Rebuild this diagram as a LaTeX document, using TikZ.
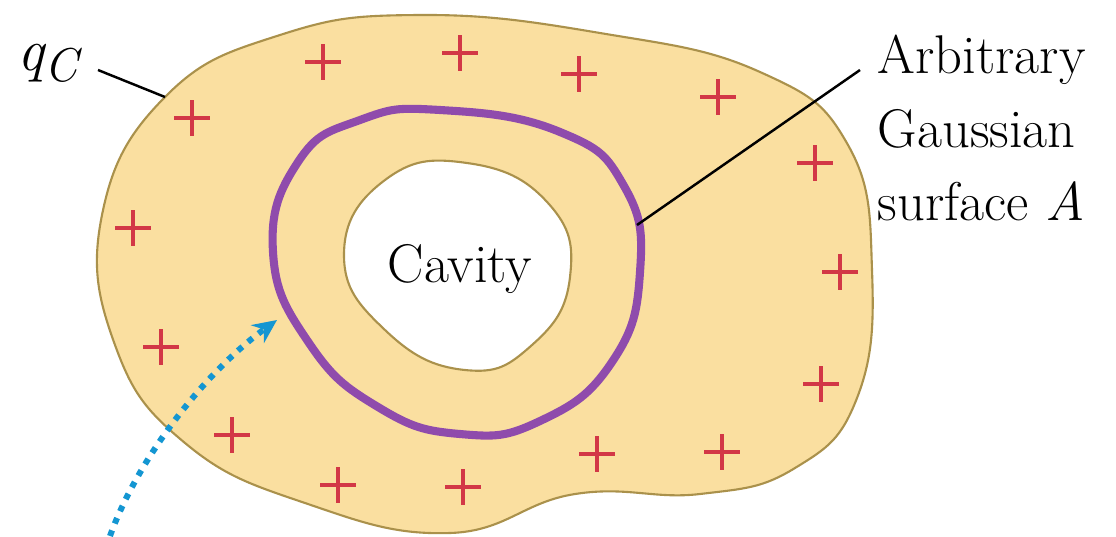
\documentclass[tikz,border=0pt]{standalone}
\usepackage{fontspec}
\definecolor{condbeige}{RGB}{250, 223, 160}
\definecolor{condedge}{RGB}{170, 145, 75}
\definecolor{gausspurple}{RGB}{143, 75, 172}
\definecolor{chargered}{RGB}{210, 55, 70}
\definecolor{fluxblue}{RGB}{20, 150, 210}
\usetikzlibrary{arrows.meta, positioning}

\begin{document}
\begin{tikzpicture}[x=0.01cm, y=-0.01cm,
    conductor/.style={fill=condbeige, draw=condedge, line width=0.6pt},
    cavity/.style={fill=white, draw=condedge, line width=0.6pt},
    gaussian/.style={draw=gausspurple, line width=2.3pt},
    plus/.style={draw=chargered, line width=1.15pt},
    leader/.style={draw=black, line width=0.7pt},
    fluxarrow/.style={draw=fluxblue, line width=1.7pt, dash pattern=on 1.7pt off 2.1pt,
                      -{Stealth[length=0.24cm, width=0.22cm]}},
    textlabel/.style={font=\rmfamily\fontsize{15.5}{21}\selectfont, inner sep=0pt}]
    \useasboundingbox (0,0) rectangle (1116,536);
    % conductor with its cavity
    \path[conductor] plot[smooth cycle, tension=0.75] coordinates {
        (420,15) (600,33) (760,72) (848,145) (872,270) (857,398) (795,468)
        (700,494) (575,494) (450,533) (305,503) (185,443) (115,345) (102,215)
        (165,97) (280,35)};
    \path[cavity] plot[smooth cycle, tension=0.8] coordinates {
        (467,163) (548,203) (570,277) (532,345) (465,370) (385,330) (344,255)
        (385,180)};
    % excess charge on the outer surface
    \foreach \x/\y in {323/62, 460/53, 579/74, 718/97, 192/118, 815/163, 133/228,
                       840/272, 161/347, 821/384, 232/435, 597/454, 722/452,
                       338/485, 463/487}
        \path[plus] (\x-18,\y) -- ++(36,0) (\x,\y-18) -- ++(0,36);
    % Gaussian surface
    \path[gaussian] plot[smooth cycle, tension=0.8] coordinates {
        (440,110) (560,132) (624,186) (640,272) (612,362) (540,421) (460,434)
        (378,407) (309,343) (273,252) (298,162) (360,120)};
    % labels
    \node[textlabel, anchor=base] (cav) at (460,282) {Cavity};
    \node[textlabel, anchor=base west] (qc) at (17,70)
        {\fontsize{17}{21}\selectfont\itshape q\raisebox{-0.2em}{\fontsize{13.5}{14}\selectfont C}};
    \node[textlabel, anchor=north west, align=left] (gauss) at (877,34)
        {Arbitrary\\Gaussian\\surface \textit{A}};
    \coordinate (qcfoot) at (98,70);
    \coordinate (qctip) at (165,97);
    \coordinate (gsfoot) at (860,70);
    \coordinate (gstip) at (637,225);
    \path[leader] (qcfoot) -- (qctip);
    \path[leader] (gsfoot) -- (gstip);
    % path into the conductor
    \coordinate (arrstart) at (110,536);
    \coordinate (arrtip) at (277,320);
    \path[fluxarrow] (arrstart) .. controls (138,458) and (205,372) .. (arrtip);
\end{tikzpicture}
\end{document}
